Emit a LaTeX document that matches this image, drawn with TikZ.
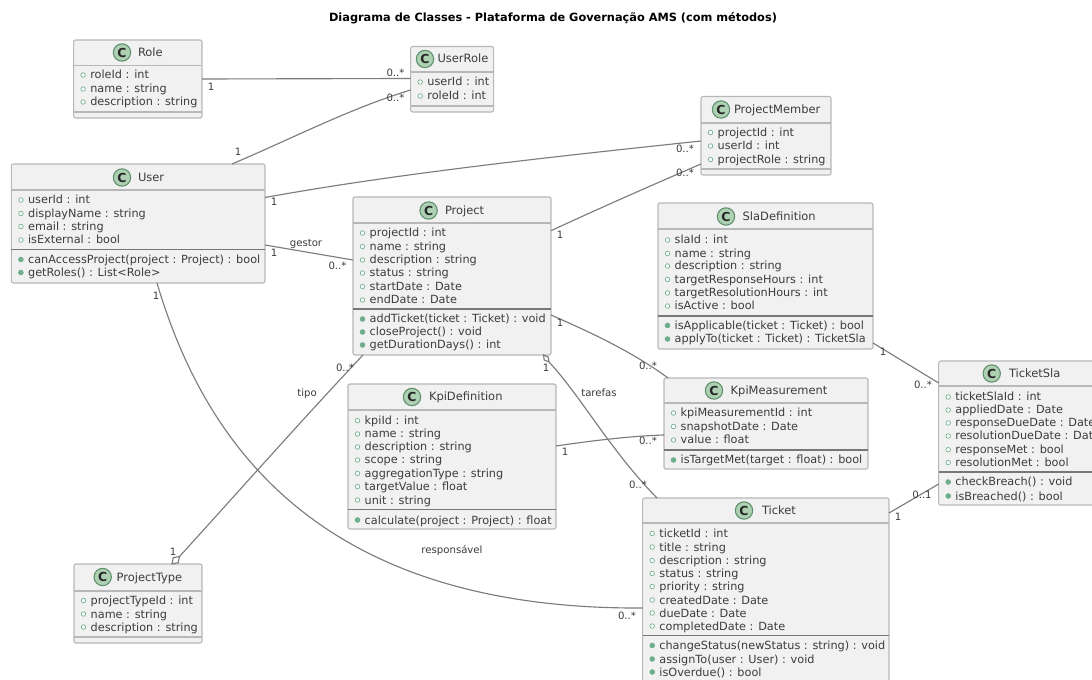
\documentclass[tikz,border=0pt]{standalone}
\usepackage{fontspec}
\setmainfont{DejaVu Sans}
\usetikzlibrary{calc}
\definecolor{boxfill}{HTML}{F1F1F1}
\definecolor{boxline}{HTML}{B8B8B8}
\definecolor{sepdark}{HTML}{777777}
\definecolor{edgecol}{HTML}{7C7C7C}
\definecolor{txtcol}{HTML}{3C3C3C}
\definecolor{cfill}{HTML}{ADD1B2}
\definecolor{cline}{HTML}{5E8F6C}
\definecolor{dotcol}{HTML}{6FAE8C}
\tikzset{
  umlbox/.style={draw=boxline,fill=boxfill,line width=0.8pt,rounded corners=1.5pt,inner sep=0pt,outer sep=0pt},
  hdrline/.style={draw=boxline,line width=0.9pt},
  sepline/.style={draw=sepdark,line width=0.85pt},
  rowtxt/.style={anchor=base west,inner sep=0pt,outer sep=0pt,yshift=-3pt,text=txtcol,font=\fontsize{8.45pt}{9pt}\selectfont},
  nametxt/.style={rowtxt,font=\fontsize{8.6pt}{9pt}\selectfont},
  attrdot/.style={circle,draw=dotcol,fill=white,line width=0.5pt,minimum size=3.4pt,inner sep=0pt},
  methdot/.style={circle,draw=dotcol,fill=dotcol,line width=0.5pt,minimum size=3.6pt,inner sep=0pt},
  cmark/.style={circle,draw=cline,fill=cfill,line width=0.8pt,minimum size=13pt,inner sep=0pt,text=black!85,font=\fontsize{9.3pt}{9pt}\selectfont\bfseries},
  edge/.style={draw=edgecol,line width=0.85pt},
  elabel/.style={inner sep=0pt,text=txtcol,font=\fontsize{7.6pt}{9pt}\selectfont},
  titletxt/.style={inner sep=0pt,text=black,font=\fontsize{8.5pt}{10pt}\selectfont\bfseries}
}
% id, l, t, r, b, header bottom
\newcommand{\umlbox}[6]{%
  \pgfmathsetmacro{\bw}{(#4-#2)*0.75}\pgfmathsetmacro{\bh}{(#5-#3)*0.75}%
  \node[umlbox,anchor=north west,minimum width=\bw pt,minimum height=\bh pt] (#1) at (#2,#3) {};
  \draw[hdrline] (#1.west |- 0,#6) -- (#1.east |- 0,#6);
}
% id, circle x, name x, y, name
\newcommand{\umlhead}[5]{%
  \node[cmark] (#1-c) at (#2,#4) {C};
  \node[nametxt] (#1-n) at (#3,#4) {#5};
}
\newcommand{\attrs}[2]{%
  \foreach \yy/\tx [count=\i] in {#2}{
    \node[attrdot] (#1-ad\i) at ($(#1.west |- 0,\yy)+(9.5,0)$) {};
    \node[rowtxt] (#1-a\i) at ($(#1.west |- 0,\yy)+(16.7,0)$) {\tx};
  }
}
\newcommand{\meths}[2]{%
  \foreach \yy/\tx [count=\i] in {#2}{
    \node[methdot] (#1-md\i) at ($(#1.west |- 0,\yy)+(9.5,0)$) {};
    \node[rowtxt] (#1-m\i) at ($(#1.west |- 0,\yy)+(16.7,0)$) {\tx};
  }
}
\newcommand{\sepat}[3][sepline]{\draw[#1] (#2.west |- 0,#3) -- (#2.east |- 0,#3);}
\begin{document}
\begin{tikzpicture}[x=0.75pt,y=-0.75pt]
\useasboundingbox (0,0) rectangle (1092,680);
\clip (0,0) rectangle (1092,680);
\fill[white] (0,0) rectangle (1092,680);
\node[titletxt,anchor=center] (title) at (553,18) {Diagrama de Classes - Plataforma de Governação AMS (com métodos)};

% classes
\umlbox{role}{73.6}{40}{202}{118}{65.5}
\umlhead{role}{122}{138}{52.5}{Role}
\attrs{role}{75/roleId : int,89/name : string,102/description : string}
\sepat[hdrline]{role}{112}

\umlbox{userrole}{410.7}{46.5}{493.6}{112}{72}
\umlhead{userrole}{425}{437.5}{59}{UserRole}
\attrs{userrole}{82/userId : int,96/roleId : int}
\sepat[hdrline]{userrole}{106}

\umlbox{user}{11.4}{164}{265}{283}{190}
\umlhead{user}{122}{138}{177.5}{User}
\attrs{user}{200/userId : int,213.5/displayName : string,226.5/email : string,240/isExternal : bool}
\sepat{user}{249.5}
\meths{user}{259.5/canAccessProject(project : Project) : bool,272.5/getRoles() : List<Role>}

\umlbox{project}{353}{197}{551}{355}{223}
\umlhead{project}{428.6}{445}{210.5}{Project}
\attrs{project}{233/projectId : int,246.5/name : string,260/description : string,273/status : string,286.5/startDate : Date,300/endDate : Date}
\sepat{project}{309}
\meths{project}{319/addTicket(ticket : Ticket) : void,332/closeProject() : void,345/getDurationDays() : int}

\umlbox{pm}{701}{96.5}{831}{175}{123}
\umlhead{pm}{721}{734}{109.5}{ProjectMember}
\attrs{pm}{132.5/projectId : int,146/userId : int,159.5/projectRole : string}
\sepat[hdrline]{pm}{169}

\umlbox{sla}{658}{203}{873}{349}{229}
\umlhead{sla}{726}{742.7}{216.5}{SlaDefinition}
\attrs{sla}{240/slaId : int,253.5/name : string,266/description : string,279.5/targetResponseHours : int,293/targetResolutionHours : int,306/isActive : bool}
\sepat{sla}{316}
\meths{sla}{325.5/isApplicable(ticket : Ticket) : bool,339/applyTo(ticket : Ticket) : TicketSla}

\umlbox{kpim}{664}{378}{868}{469}{403}
\umlhead{kpim}{714}{730.7}{390.5}{KpiMeasurement}
\attrs{kpim}{413/kpiMeasurementId : int,426.5/snapshotDate : Date,440/value : float}
\sepat{kpim}{450}
\meths{kpim}{460/isTargetMet(target : float) : bool}

\umlbox{kpid}{348}{384}{556}{529}{410}
\umlhead{kpid}{412}{429}{397}{KpiDefinition}
\attrs{kpid}{420.7/kpiId : int,434/name : string,447/description : string,460/scope : string,473.5/aggregationType : string,486.5/targetValue : float,500/unit : string}
\sepat{kpid}{509.5}
\meths{kpid}{520/calculate(project : Project) : float}

\umlbox{ticket}{642.7}{498}{889}{690}{523}
\umlhead{ticket}{744}{762}{510.5}{Ticket}
\attrs{ticket}{533.5/ticketId : int,547/title : string,560.5/description : string,573.5/status : string,586.5/priority : string,600/createdDate : Date,613/dueDate : Date,626/completedDate : Date}
\sepat{ticket}{635.5}
\meths{ticket}{645.5/changeStatus(newStatus : string) : void,659/assignTo(user : User) : void,672/isOverdue() : bool}

\umlbox{tsla}{938.7}{361}{1105}{505}{386}
\umlhead{tsla}{991.7}{1009}{373.5}{TicketSla}
\attrs{tsla}{397/ticketSlaId : int,410/appliedDate : Date,423/responseDueDate : Date,436/resolutionDueDate : Date,449.7/responseMet : bool,462.5/resolutionMet : bool}
\sepat{tsla}{472}
\meths{tsla}{482/checkBreach() : void,496/isBreached() : bool}

\umlbox{ptype}{74}{564}{202}{643}{591}
\umlhead{ptype}{102.7}{116.7}{577}{ProjectType}
\attrs{ptype}{600.5/projectTypeId : int,614/name : string,627/description : string}
\sepat[hdrline]{ptype}{637}

% connectors
\draw[edge] (role.east) -- ($(userrole.north west)+(0,32)$);
\draw[edge] ($(user.north west)+(220.6,0)$) .. controls (291,139) and (351,108) .. ($(userrole.north west)+(0,43.5)$);
\draw[edge] ($(user.north east)+(0,33.5)$) .. controls (400,173) and (560,156) .. ($(pm.north west)+(0,44.5)$);
\draw[edge] ($(project.north east)+(0,33.7)$) .. controls (600,208) and (650,186) .. ($(pm.north west)+(0,67.5)$);
\draw[edge] ($(user.north east)+(0,81)$) -- ($(project.north west)+(0,63)$);
\draw[edge] ($(project.north east)+(0,118)$) .. controls (585,330) and (630,350) .. ($(kpim.north west)+(4,0)$);
\draw[edge] ($(project.south east)+(-2,7)$) .. controls (580,395) and (610,450) .. ($(ticket.north west)+(14.3,0)$);
\draw[edge,fill=white] ($(project.south east)+(-7.5,0)$) -- ($(project.south east)+(-2.8,2)$) -- ($(project.south east)+(-2,7)$) -- ($(project.south east)+(-6.8,5)$) -- cycle;
\draw[edge] ($(kpid.north east)+(0,62)$) .. controls (590,441) and (630,436) .. ($(kpim.north west)+(0,57)$);
\draw[edge] ($(sla.north east)+(0,140)$) -- ($(tsla.north west)+(0,22)$);
\draw[edge] ($(ticket.north east)+(0,15)$) -- ($(tsla.south west)+(0,-21)$);
\draw[edge] ($(user.south west)+(145.6,0)$) .. controls (205,445) and (320,610) .. ($(ticket.north west)+(0,110)$);
\draw[edge] ($(project.south west)+(10,0)$) .. controls (300,422) and (240,490) .. ($(ptype.north west)+(105.5,-7.5)$);
\draw[edge,fill=white] ($(ptype.north west)+(98,0)$) -- ($(ptype.north west)+(99.2,-6.3)$) -- ($(ptype.north west)+(105.5,-7.5)$) -- ($(ptype.north west)+(104.2,-1.3)$) -- cycle;

% connector labels
\node[elabel] (l1) at (211,86.5) {1};
\node[elabel] (l2) at (395.5,72.5) {0..*};
\node[elabel] (l3) at (238,152) {1};
\node[elabel] (l4) at (395.5,98) {0..*};
\node[elabel] (l5) at (274,202) {1};
\node[elabel] (l6) at (685,149) {0..*};
\node[elabel] (l7) at (560,235) {1};
\node[elabel] (l8) at (685,173) {0..*};
\node[elabel] (l9) at (306,244) {gestor};
\node[elabel] (l10) at (274,252.7) {1};
\node[elabel] (l11) at (337.5,266) {0..*};
\node[elabel] (l12) at (560,323) {1};
\node[elabel] (l13) at (648,366) {0..*};
\node[elabel] (l14) at (546,368) {1};
\node[elabel] (l15) at (599,393) {tarefas};
\node[elabel] (l16) at (638,485) {0..*};
\node[elabel] (l17) at (565,452) {1};
\node[elabel] (l18) at (648,441) {0..*};
\node[elabel] (l19) at (883,352) {1};
\node[elabel] (l20) at (923,385) {0..*};
\node[elabel] (l21) at (898,517) {1};
\node[elabel] (l22) at (922,495) {0..1};
\node[elabel] (l23) at (156,296) {1};
\node[elabel] (l24) at (452,551) {responsável};
\node[elabel] (l25) at (627,616) {0..*};
\node[elabel] (l26) at (345,368) {0..*};
\node[elabel] (l27) at (307,394) {tipo};
\node[elabel] (l28) at (173,552) {1};
\end{tikzpicture}
\end{document}
